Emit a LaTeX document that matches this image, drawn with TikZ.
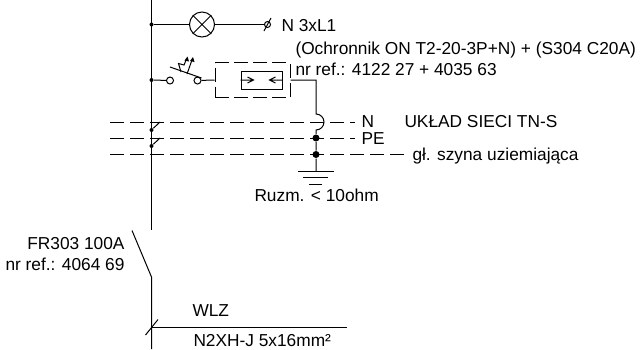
\documentclass[tikz,border=0pt]{standalone}
\usepackage{fontspec}
\setmainfont{Liberation Sans}
\begin{document}
\begin{tikzpicture}[x=1pt,y=-1pt,line width=1pt,
  txt/.style={inner sep=0pt,anchor=base west,font=\fontsize{17.3}{20}\selectfont},
  txtr/.style={inner sep=0pt,anchor=base east,font=\fontsize{17.3}{20}\selectfont},
  dot/.style={circle,fill=black,inner sep=0pt,minimum size=#1},
  ring/.style={circle,draw,fill=white,inner sep=0pt,minimum size=7pt},
  dsh/.style={dash pattern=on 14pt off 6pt}]
\useasboundingbox (0,0) rectangle (642,349);
% bus
\coordinate (b0) at (151.5,0); \coordinate (b1) at (151.5,230);
\coordinate (b2) at (151.5,277); \coordinate (b3) at (151.5,349);
\coordinate (s0) at (132,230.5);
\draw (b0) -- (b1);
\draw (s0) -- (b2) -- (b3);
% lamp
\node[dot=4pt] (j1) at (151.5,24.5) {};
\node[circle,draw,inner sep=0pt,minimum size=25pt] (lamp) at (202,24.5) {};
\draw (lamp.north west) -- (lamp.south east) (lamp.north east) -- (lamp.south west);
\draw (j1) -- (lamp);
\node[circle,draw,inner sep=0pt,minimum size=6pt] (lt) at (267.5,24.5) {};
\draw (lamp) -- (lt);
\draw (264,31) -- (271,18);
\node[txt] at (281,31) {N 3xL1};
% switch
\node[dot=4pt] (j2) at (151.5,80) {};
\node[ring] (c1) at (170,80.5) {};
\node[ring] (c2) at (197.5,80.5) {};
\draw (j2) -- (c1);
\draw (170,67) -- (201.5,78);
\draw (181,72) -- (178.5,63.5) -- (184,65) -- (186.5,59);
\draw (187,74) -- (192,60);
\fill (187.5,56.5) -- (184.5,60.5) -- (189,61.5) -- cycle;
\fill (193,57) -- (190,61) -- (194.5,62) -- cycle;
% SPD
\node[draw,dash pattern=on 14pt off 5pt,minimum width=75pt,minimum height=35pt,inner sep=0pt] (box) at (252.5,80) {};
\node[draw,minimum width=41pt,minimum height=18pt,inner sep=0pt] (inner) at (261.5,80) {};
\draw (c2) -- (box.west);
\coordinate (ml) at (inner.west); \coordinate (mr) at (inner.east);
\draw (ml) -- +(13,0) (ml) ++(7,-3) -- ++(6,3) -- ++(-6,3);
\draw (mr) -- +(-13,0) (mr) ++(-7,-3) -- ++(-6,3) -- ++(6,3);
% N, PE, earth
\coordinate (n0) at (110,122); \coordinate (n1) at (355,122);
\coordinate (p0) at (110,138); \coordinate (p1) at (355,138);
\coordinate (g0) at (110,154.5); \coordinate (g1) at (404,154.5);
\draw[dsh] (n0) -- (n1);
\draw[dsh] (p0) -- (p1);
\draw[dsh] (g0) -- (g1);
\node[dot=4pt] (k1) at (151.5,130) {};
\node[dot=4pt] (k2) at (151.5,146) {};
\draw (k1) -- (160,122);
\draw (k2) -- (160,138);
\node[dot=7pt] (d1) at (316,138) {};
\node[dot=7pt] (d2) at (316,154.5) {};
\draw (box.east) -- (316,80) -- (316,114) arc[start angle=-90,end angle=90,radius=8] -- (d1) -- (d2) -- (316,171.5);
\draw (298,171.5) -- (334,171.5);
\draw (303,177.5) -- (328,177.5);
\draw (309,184) -- (322,184);
% cable
\coordinate (w1) at (347,327.5);
\draw (b2 |- w1) -- (w1);
\draw (145.5,335) -- (158,319.5);
% texts
\node[txt] at (295,54.5) {(Ochronnik ON T2-20-3P+N) + (S304 C20A)};
\node[txt] at (295,75) {nr ref.: 4122 27 + 4035 63};
\node[txt] at (361,127) {N};
\node[txt] at (361,144) {PE};
\node[txt] at (404,127) {UKŁAD SIECI TN-S};
\node[txt] at (412,160) {gł. szyna uziemiająca};
\node[txt] at (254,201.5) {Ruzm. < 10ohm};
\node[txtr] at (125,249) {FR303 100A};
\node[txtr] at (125,270.5) {nr ref.: 4064 69};
\node[txt] at (192,316.5) {WLZ};
\node[txt] at (193,346) {N2XH-J 5x16mm²};
\end{tikzpicture}
\end{document}
